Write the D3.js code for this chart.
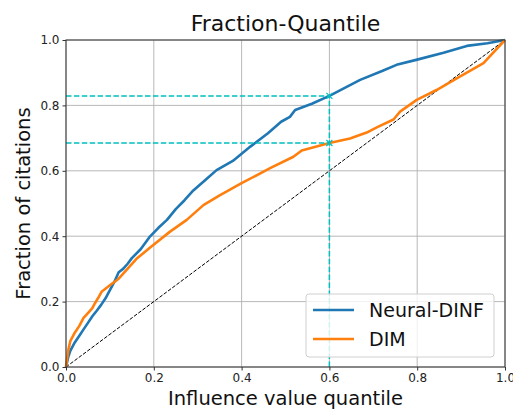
<!DOCTYPE html>
<html>
<head>
<meta charset="utf-8">
<script src="https://cdn.jsdelivr.net/npm/d3@7"></script>
<style>
  body { margin: 0; background: #fff; }
  text { font-family: "DejaVu Sans", sans-serif; }
</style>
</head>
<body>
<div id="chart"></div>
<script>
// setting up constants
const FRAME_WIDTH = 513;
const FRAME_HEIGHT = 410;
const MARGINS = {left: 66, right: 8, top: 40, bottom: 43};
const VIS_WIDTH = FRAME_WIDTH - MARGINS.left - MARGINS.right;
const VIS_HEIGHT = FRAME_HEIGHT - MARGINS.top - MARGINS.bottom;

// data
const dinfX = [0, .005, .01, .02, .03, .04, .05, .06, .07, .08, .09, .1, .11, .12, .13, .14, .15, .17, .19, .21, .23, .25, .27, .29, .32, .343, .38, .42, .46, .49, .51, .522, .56, .6, .67, .72, .753, .8, .86, .913, .96, 1.0];
const dinfY = [0, .03, .05, .075, .095, .115, .135, .155, .172, .19, .21, .235, .26, .29, .3, .315, .333, .36, .397, .425, .45, .483, .51, .54, .575, .602, .63, .674, .715, .75, .765, .786, .805, .829, .878, .905, .924, .94, .961, .982, .99, 1.0];
const dimX = [0, .005, .01, .02, .03, .04, .05, .06, .066, .075, .081, .1, .12, .138, .16, .191, .237, .275, .313, .35, .4, .465, .518, .537, .6, .647, .685, .708, .746, .761, .799, .844, .89, .951, 1.0];
const dimY = [0, .05, .08, .105, .125, .15, .165, .18, .195, .215, .23, .25, .27, .297, .33, .365, .414, .45, .495, .525, .562, .608, .643, .662, .685, .699, .717, .733, .757, .781, .817, .847, .883, .929, 1.0];
const ticks = [0, 0.2, 0.4, 0.6, 0.8, 1.0];
const markX = 0.6;
const markY = [0.829, 0.685];
const seriesNames = ["Neural-DINF", "DIM"];
const seriesColors = ["#1f77b4", "#ff7f0e"];

const svg = d3.select("#chart").append("svg")
    .attr("width", FRAME_WIDTH)
    .attr("height", FRAME_HEIGHT);
const FRAME = svg.append("g")
    .attr("transform", "translate(" + MARGINS.left + "," + MARGINS.top + ")");

const xScale = d3.scaleLinear().domain([0, 1]).range([0, VIS_WIDTH]);
const yScale = d3.scaleLinear().domain([0, 1]).range([VIS_HEIGHT, 0]);

// grid
FRAME.append("g").selectAll("line").data(ticks).enter().append("line")
    .attr("x1", d => xScale(d)).attr("x2", d => xScale(d))
    .attr("y1", 0).attr("y2", VIS_HEIGHT)
    .attr("stroke", "#b0b0b0").attr("stroke-width", 0.9);
FRAME.append("g").selectAll("line").data(ticks).enter().append("line")
    .attr("y1", d => yScale(d)).attr("y2", d => yScale(d))
    .attr("x1", 0).attr("x2", VIS_WIDTH)
    .attr("stroke", "#b0b0b0").attr("stroke-width", 0.9);

// diagonal reference
FRAME.append("line")
    .attr("x1", xScale(0)).attr("y1", yScale(0))
    .attr("x2", xScale(1)).attr("y2", yScale(1))
    .attr("stroke", "#000").attr("stroke-width", 1)
    .attr("stroke-dasharray", "3.7,1.6");

// curves
const line = d3.line().x(d => xScale(d[0])).y(d => yScale(d[1]));
const series = [d3.zip(dinfX, dinfY), d3.zip(dimX, dimY)];
series.forEach((s, i) => {
  FRAME.append("path").datum(s)
      .attr("d", line)
      .attr("fill", "none")
      .attr("stroke", seriesColors[i])
      .attr("stroke-width", 2.6)
      .attr("stroke-linejoin", "round");
});

// cyan guide lines
const CYAN = "#00bfbf";
markY.forEach(v => {
  FRAME.append("line")
      .attr("x1", xScale(0)).attr("x2", xScale(markX))
      .attr("y1", yScale(v)).attr("y2", yScale(v))
      .attr("stroke", CYAN).attr("stroke-width", 1.5)
      .attr("stroke-dasharray", "5.5,2.4");
});
FRAME.append("line")
    .attr("x1", xScale(markX)).attr("x2", xScale(markX))
    .attr("y1", yScale(0)).attr("y2", yScale(markY[0]))
    .attr("stroke", CYAN).attr("stroke-width", 1.5)
    .attr("stroke-dasharray", "5.5,2.4");
markY.forEach(v => {
  const cx = xScale(markX), cy = yScale(v), r = 3;
  FRAME.append("path")
      .attr("d", `M${cx - r},${cy - r}L${cx + r},${cy + r}M${cx - r},${cy + r}L${cx + r},${cy - r}`)
      .attr("stroke", CYAN).attr("stroke-width", 1.2);
});

// axes
const xAxis = FRAME.append("g")
    .attr("transform", "translate(0," + VIS_HEIGHT + ")")
    .call(d3.axisBottom(xScale).tickValues(ticks).tickFormat(d3.format(".1f")).tickSize(3.5).tickPadding(3));
const yAxis = FRAME.append("g")
    .call(d3.axisLeft(yScale).tickValues(ticks).tickFormat(d3.format(".1f")).tickSize(3.5).tickPadding(3));
[xAxis, yAxis].forEach(a => {
  a.select(".domain").remove();
  a.selectAll("text").attr("font-size", 12).attr("fill", "#222").attr("font-family", "DejaVu Sans");
  a.selectAll("line").attr("stroke", "#333");
});

// frame
FRAME.append("rect")
    .attr("width", VIS_WIDTH).attr("height", VIS_HEIGHT)
    .attr("fill", "none").attr("stroke", "#333").attr("stroke-width", 1);

// legend
const legend = FRAME.append("g").attr("transform", "translate(" + (306 - MARGINS.left) + "," + (294 - MARGINS.top) + ")");
legend.append("rect")
    .attr("width", 188).attr("height", 63).attr("rx", 3)
    .attr("fill", "#fff").attr("fill-opacity", 0.8)
    .attr("stroke", "#d0d0d0").attr("stroke-width", 1);
seriesNames.forEach((n, i) => {
  const y = 16 + i * 29;
  legend.append("line")
      .attr("x1", 7).attr("x2", 48).attr("y1", y).attr("y2", y)
      .attr("stroke", seriesColors[i]).attr("stroke-width", 2.6);
  legend.append("text")
      .attr("x", 63).attr("y", y + 7)
      .attr("font-size", 19).attr("fill", "#111")
      .text(n);
});

// title and labels
svg.append("text")
    .attr("x", MARGINS.left + VIS_WIDTH / 2).attr("y", 31)
    .attr("text-anchor", "middle").attr("font-size", 22).attr("fill", "#111")
    .text("Fraction-Quantile");
svg.append("text")
    .attr("x", MARGINS.left + VIS_WIDTH / 2).attr("y", 405)
    .attr("text-anchor", "middle").attr("font-size", 19.5).attr("fill", "#111")
    .text("Influence value quantile");
svg.append("text")
    .attr("transform", "translate(30," + (MARGINS.top + VIS_HEIGHT / 2) + ") rotate(-90)")
    .attr("text-anchor", "middle").attr("font-size", 19.5).attr("fill", "#111")
    .text("Fraction of citations");
</script>
</body>
</html>
